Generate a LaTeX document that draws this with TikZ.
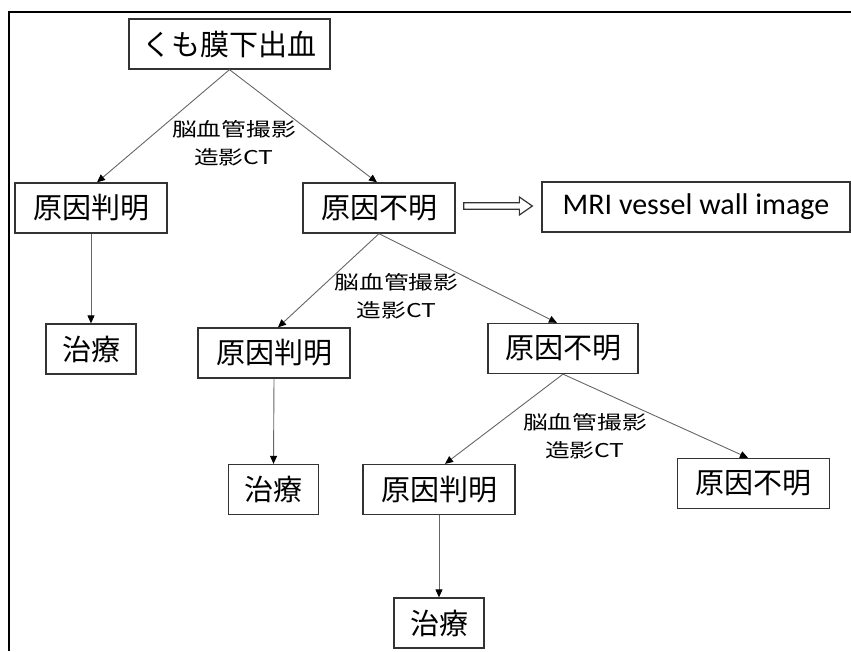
\documentclass[tikz,border=0pt]{standalone}
\usepackage{fontspec}
\newfontfamily\jpfont{Noto Sans CJK JP}
\newfontfamily\jplab[FakeStretch=1.3]{Noto Sans CJK JP}
\newfontfamily\latfont{Carlito}
\usetikzlibrary{arrows.meta,calc}
\begin{document}
\begin{tikzpicture}[x=1pt,y=-1pt,
 box/.style={draw=black!80,line width=1.3pt,inner sep=0pt,minimum height=50pt,font=\jpfont\fontsize{29}{34}\selectfont},
 wide/.style={box,minimum width=152pt},
 cure/.style={box,minimum width=90pt},
 conn/.style={draw=black!60,line width=0.9pt,-{Triangle[length=8pt,width=7pt,color=black]}},
 lab/.style={align=center,inner sep=0pt,font=\jplab\fontsize{19}{28}\selectfont}]
\useasboundingbox (0,0) rectangle (851,651);
\draw[line width=2pt] (8.5,651) -- (8.5,11.5) -- (851,11.5);

\node[box,minimum width=201pt] (top) at (229.5,44) {くも膜下出血};
\node[wide] (a1) at (91,208) {原因判明};
\node[wide] (b1) at (379,208) {原因不明};
\node[box,minimum width=308pt,font=\latfont\fontsize{30}{36}\selectfont] (mri) at (696,207) {MRI vessel wall image};
\node[cure] (t1) at (91,349) {治療};
\node[wide] (a2) at (274,353) {原因判明};
\node[wide,minimum width=150pt] (b2) at (563,348.5) {原因不明};
\node[cure] (t2) at (273.5,489.5) {治療};
\node[wide] (a3) at (439,489.5) {原因判明};
\node[wide] (b3) at (753.5,483.5) {原因不明};
\node[cure] (t3) at (439,623) {治療};

\node[lab] (l1) at (234,143.5) {脳血管撮影\\造影CT};
\node[lab] (l2) at (396.5,296) {脳血管撮影\\造影CT};
\node[lab] (l3) at (585,436.5) {脳血管撮影\\造影CT};

\draw[conn] (top.south) -- ([xshift=6pt]a1.north);
\draw[conn] (top.south) -- ([xshift=-2pt]b1.north);
\draw[conn] (a1.south) -- (t1.north);
\draw[conn] (b1.south) -- ([xshift=4pt]a2.north);
\draw[conn] (b1.south) -- ([xshift=-6pt]b2.north);
\draw[conn] (a2.south) -- (t2.north);
\draw[conn] (b2.south) -- ([xshift=6pt]a3.north);
\draw[conn] (b2.south) -- ([xshift=-5.5pt]b3.north);
\draw[conn] (a3.south) -- (t3.north);

\coordinate (ds) at ([xshift=8pt,yshift=2pt]b1.east);
\coordinate (de) at ([xshift=-9pt]mri.west |- ds);
\draw[line width=1.2pt,draw=black!80,fill=white]
 ($(ds)+(0,-3.3)$) -- ($(de)+(-13,-3.3)$) -- ($(de)+(-13,-9)$) -- (de)
 -- ($(de)+(-13,9)$) -- ($(de)+(-13,3.3)$) -- ($(ds)+(0,3.3)$) -- cycle;
\end{tikzpicture}
\end{document}
